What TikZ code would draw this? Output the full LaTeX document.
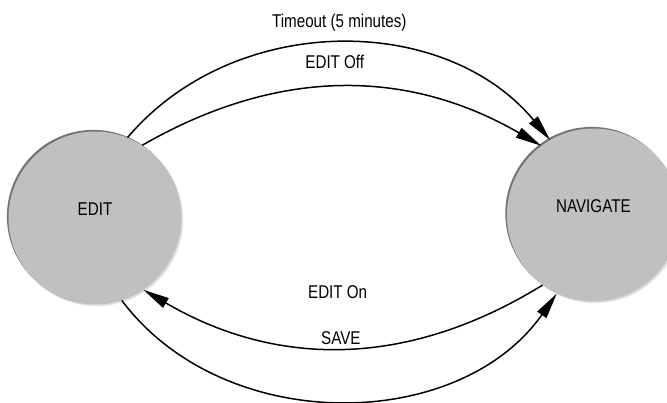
\documentclass[tikz,border=0pt]{standalone}
\usepackage{fontspec}
\setmainfont[FakeStretch=0.82]{Liberation Sans}
\usetikzlibrary{arrows.meta,positioning,shadows}
\definecolor{modefill}{HTML}{C0C0C0}

\begin{document}
\begin{tikzpicture}[x=1pt,y=1pt,font=\fontsize{18.5}{22}\selectfont,node distance=325pt,>={Triangle[length=26pt,width=11pt]}]
  \tikzstyle{mode}=[circle,minimum size=173pt,inner sep=0pt,fill=modefill,
    general shadow={shadow xshift=-1.6pt,shadow yshift=1.6pt,fill=black!55},
    general shadow={shadow xshift=1.6pt,shadow yshift=-1.6pt,fill=black!12}]
  \tikzstyle{link}=[->,line width=1.5pt]
  \useasboundingbox (0,0) rectangle (667,402);
  \node[mode,label={[yshift=9pt]center:EDIT}] (edit) at (95,184) {};
  \node[mode,label={[yshift=9pt]center:NAVIGATE},right=of edit,yshift=3pt] (navigate) {};
  \draw[link] (edit.68) to[bend left=50] node[above=8pt]{Timeout (5 minutes)} (navigate.120);
  \draw[link] (edit.57) to[bend left=30] node[above=14pt,xshift=-7pt]{EDIT Off} (navigate.127);
  \draw[link] (navigate.-126) to[bend left=31] node[above=45pt,xshift=-6pt]{EDIT On} (edit.-56);
  \draw[link] (edit.-72) to[bend right=54] node[above=52pt]{SAVE} (navigate.-115);
\end{tikzpicture}
\end{document}
